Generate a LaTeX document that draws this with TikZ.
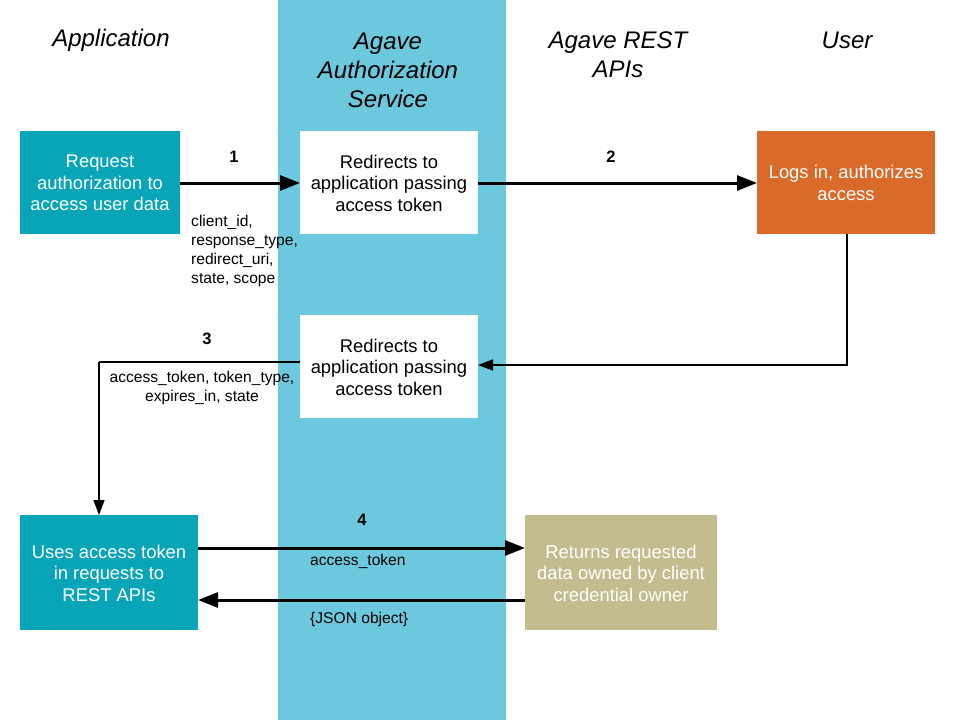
\documentclass[tikz,border=0pt]{standalone}
\usepackage{fontspec}
\setmainfont{Liberation Sans}
\usetikzlibrary{arrows.meta}
\definecolor{band}{RGB}{108,200,220}
\definecolor{tealbox}{RGB}{8,165,184}
\definecolor{orangebox}{RGB}{218,106,42}
\definecolor{khakibox}{RGB}{194,188,142}
\begin{document}
\begin{tikzpicture}[x=1pt,y=-1pt,
  header/.style={font=\fontsize{24}{29}\selectfont\itshape, align=center},
  boxtext/.style={font=\fontsize{18.4}{21.5}\selectfont, align=center, inner sep=0pt},
  small/.style={font=\fontsize{15.6}{19}\selectfont, inner sep=0pt},
  num/.style={font=\fontsize{16.5}{18}\selectfont\bfseries, inner sep=0pt},
  thickarrow/.style={line width=3pt, -{Triangle[length=20pt,width=15pt]}},
  thinarrow/.style={line width=1.6pt, -{Triangle[length=15pt,width=11pt]}},
  thinline/.style={line width=1.6pt}]
\useasboundingbox (0,0) rectangle (960,720);
\fill[white] (0,0) rectangle (960,720);
\fill[band] (278,0) rectangle (506,720);

% headers
\node[header] (hApp) at (111,40) {Application};
\node[header] (hAuth) at (388,70) {Agave\\Authorization\\Service};
\node[header] (hRest) at (618,55) {Agave REST\\APIs};
\node[header] (hUser) at (847,40) {User};

% boxes
\fill[tealbox] (20,131) rectangle (180,234);
\node[boxtext, text=white] (req) at (100,183) {Request\\authorization to\\access user data};
\coordinate (reqE) at (180,183);

\fill[white] (300,131) rectangle (478,234);
\node[boxtext] (red1) at (389,183) {Redirects to\\application passing\\access token};
\coordinate (red1W) at (300,183);
\coordinate (red1E) at (478,183);

\fill[orangebox] (757,131) rectangle (935,234);
\node[boxtext, text=white] (logs) at (846,183) {Logs in, authorizes\\access};
\coordinate (logsW) at (757,183);
\coordinate (logsS) at (847,234);

\fill[white] (300,315) rectangle (478,418);
\node[boxtext] (red2) at (389,367) {Redirects to\\application passing\\access token};
\coordinate (red2E) at (478,365);
\coordinate (red2W) at (300,362);

\fill[tealbox] (20,515) rectangle (198,630);
\node[boxtext, text=white] (uses) at (109,573) {Uses access token\\in requests to\\REST APIs};
\coordinate (usesN) at (99,515);
\coordinate (usesE1) at (198,548);
\coordinate (usesE2) at (198,600);

\fill[khakibox] (525,515) rectangle (717,630);
\node[boxtext, text=white] (ret) at (621,573) {Returns requested\\data owned by client\\credential owner};
\coordinate (retW1) at (525,548);
\coordinate (retW2) at (525,600);

% connectors
\draw[thickarrow] (reqE) -- (red1W);
\draw[thickarrow] (red1E) -- (logsW);
\draw[thinarrow] (logsS) |- (red2E);
\coordinate (corner3) at (99,362);
\draw[thinline] (red2W) -- (corner3);
\draw[thinarrow] (corner3) -- (usesN);
\draw[thickarrow] (usesE1) -- (retW1);
\draw[thickarrow] (retW2) -- (usesE2);

% labels
\node[num] (n1) at (234,157) {1};
\node[num] (n2) at (611,157) {2};
\node[num] (n3) at (207,339) {3};
\node[num] (n4) at (362,520) {4};
\node[small, align=left, anchor=north west] (l1) at (191,215) {client\_id,\\response\_type,\\redirect\_uri,\\state, scope};
\node[small, align=center, anchor=north] (l3) at (202,371) {access\_token, token\_type,\\expires\_in, state};
\node[small, anchor=west] (l4) at (310,561) {access\_token};
\node[small, anchor=west] (l5) at (310,619) {\{JSON object\}};
\end{tikzpicture}
\end{document}
